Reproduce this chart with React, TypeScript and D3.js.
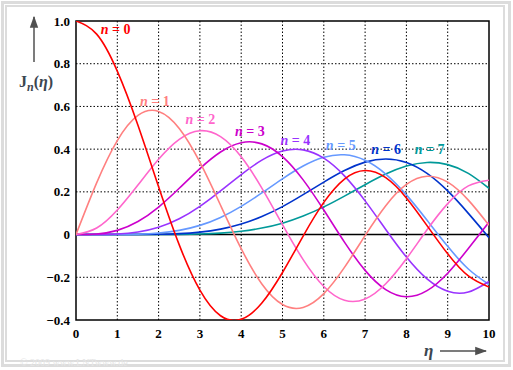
import React from 'react'
import * as d3 from 'd3'

// sample positions of eta
const etaValues = [0, 0.5, 1, 1.5, 2, 2.5, 3, 3.5, 4, 4.5, 5, 5.5, 6, 6.5, 7, 7.5, 8, 8.5, 9, 9.5, 10]

// J_n(eta) at the positions above
const j0 = [1.0, 0.9385, 0.7652, 0.5118, 0.2239, -0.0484, -0.2601, -0.3801, -0.3971, -0.3205, -0.1776, -0.0068, 0.1506, 0.2601, 0.3001, 0.2663, 0.1717, 0.0419, -0.0903, -0.1939, -0.2459]
const j1 = [0, 0.2423, 0.4401, 0.5579, 0.5767, 0.4971, 0.3391, 0.1374, -0.066, -0.2311, -0.3276, -0.3414, -0.2767, -0.1538, -0.0047, 0.1352, 0.2346, 0.2731, 0.2453, 0.1613, 0.0435]
const j2 = [0, 0.0306, 0.1149, 0.2321, 0.3528, 0.4461, 0.4861, 0.4586, 0.3641, 0.2178, 0.0466, -0.1173, -0.2429, -0.3074, -0.3014, -0.2302, -0.113, 0.0224, 0.1448, 0.2279, 0.2546]
const j3 = [0, 0.0026, 0.0196, 0.061, 0.1289, 0.2167, 0.3091, 0.3868, 0.4301, 0.4247, 0.3649, 0.2561, 0.1148, -0.0354, -0.1676, -0.258, -0.2911, -0.2626, -0.1809, -0.0653, 0.0584]
const j4 = [0, 0.0002, 0.0025, 0.0118, 0.034, 0.0738, 0.132, 0.2044, 0.2811, 0.3485, 0.3912, 0.3967, 0.3576, 0.2747, 0.1578, 0.0238, -0.1054, -0.2078, -0.2655, -0.2691, -0.2196]
const j5 = [0, 0, 0.0002, 0.0018, 0.007, 0.0195, 0.043, 0.0804, 0.1321, 0.1949, 0.2611, 0.3209, 0.3621, 0.3735, 0.3479, 0.2834, 0.1858, 0.067, -0.055, -0.1613, -0.2341]
const j6 = [0, 0, 0, 0.0002, 0.0012, 0.0042, 0.0114, 0.0254, 0.0491, 0.0846, 0.131, 0.1868, 0.2458, 0.2999, 0.3392, 0.3541, 0.3376, 0.2866, 0.2043, 0.0993, -0.0145]
const j7 = [0, 0, 0, 0, 0.0002, 0.0009, 0.0025, 0.0066, 0.0152, 0.0307, 0.0534, 0.0867, 0.1296, 0.1802, 0.2336, 0.2832, 0.3206, 0.3376, 0.3275, 0.2867, 0.2167]

const seriesValues = [j0, j1, j2, j3, j4, j5, j6, j7]
const seriesOrders = ['0', '1', '2', '3', '4', '5', '6', '7']
// where each "n = k" label sits (eta, value)
const labelAnchors: [number, number][] = [
  [0.6, 0.94], [1.55, 0.6], [2.65, 0.52], [3.85, 0.46], [4.95, 0.42], [6.05, 0.395], [7.15, 0.378], [8.2, 0.378],
]

const xTicks = [0, 1, 2, 3, 4, 5, 6, 7, 8, 9, 10]
const yTicks = [-0.4, -0.2, 0, 0.2, 0.4, 0.6, 0.8, 1.0]

const colors = ['#ff0000', '#ff8080', '#ff66cc', '#cc00cc', '#9933ff', '#6699ff', '#0033cc', '#009999']

const App = () => {
  const W = 513
  const H = 370
  const left = 76
  const right = 489
  const top = 21
  const bottom = 320

  const x = d3.scaleLinear().domain([0, 10]).range([left, right])
  const y = d3.scaleLinear().domain([-0.4, 1.0]).range([bottom, top])

  const line = d3
    .line<number>()
    .x((d, i) => x(etaValues[i]))
    .y((d) => y(d))
    .curve(d3.curveNatural)

  const serif = '"Liberation Serif", "Times New Roman", serif'

  return (
    <svg width={W} height={H} style={{ position: 'absolute', left: 0, top: 0 }} fontFamily={serif}>
      <defs>
        <clipPath id="plot">
          <rect x={left} y={top} width={right - left} height={bottom - top} />
        </clipPath>
        <marker id="arr" viewBox="0 0 10 10" refX="9" refY="5" markerWidth="8" markerHeight="8" orient="auto">
          <path d="M0,1.5 L10,5 L0,8.5 Z" fill="#505050" />
        </marker>
      </defs>

      {/* frame */}
      <rect x={0} y={0} width={W} height={H} fill="#fff" />
      <rect x={2.5} y={2.5} width={507} height={363} fill="none" stroke="#dcdcdc" strokeWidth={3} />
      <rect x={6} y={6} width={498} height={355} fill="none" stroke="#dcdcdc" strokeWidth={2} />

      {/* grid */}
      {xTicks.slice(1, -1).map((t) => (
        <line key={'gx' + t} x1={x(t)} x2={x(t)} y1={top} y2={bottom} stroke="#000" strokeWidth={1} strokeDasharray="1.5,2" />
      ))}
      {yTicks.filter((t) => t !== 0 && t !== -0.4 && t !== 1.0).map((t) => (
        <line key={'gy' + t} x1={left} x2={right} y1={y(t)} y2={y(t)} stroke="#000" strokeWidth={1} strokeDasharray="1.5,2" />
      ))}

      {/* border and zero line */}
      <rect x={left} y={top} width={right - left} height={bottom - top} fill="none" stroke="#000" strokeWidth={1.5} />
      <line x1={left} x2={right} y1={y(0)} y2={y(0)} stroke="#000" strokeWidth={1.5} />

      {/* curves */}
      <g clipPath="url(#plot)">
        {seriesValues
          .map((vals, n) => ({ vals, n }))
          .reverse()
          .map(({ vals, n }) => (
            <path key={n} d={line(vals) || ''} fill="none" stroke={colors[n]} strokeWidth={1.6} />
          ))}
      </g>

      {/* curve labels */}
      {labelAnchors.map(([ex, ev], n) => (
        <text key={'l' + n} x={x(ex)} y={y(ev)} fill={colors[n]} fontSize={14} fontWeight="bold">
          <tspan fontStyle="italic">n</tspan>
          <tspan> = {seriesOrders[n]}</tspan>
        </text>
      ))}

      {/* tick labels */}
      {xTicks.map((t) => (
        <text key={'tx' + t} x={x(t)} y={bottom + 18} textAnchor="middle" fontSize={13} fontWeight="bold">
          {t}
        </text>
      ))}
      {yTicks.map((t) => (
        <text key={'ty' + t} x={left - 6} y={y(t) + 4.5} textAnchor="end" fontSize={13} fontWeight="bold">
          {t === 0 ? '0' : d3.format('.1f')(t)}
        </text>
      ))}

      {/* y axis title */}
      <line x1={34} x2={34} y1={62} y2={17} stroke="#505050" strokeWidth={1.5} markerEnd="url(#arr)" />
      <text x={19} y={87} fontSize={16} fontWeight="bold" fill="#3c4650">
        J<tspan fontStyle="italic" fontSize={12} dy={4}>n</tspan>
        <tspan dy={-4}>(</tspan>
        <tspan fontStyle="italic">η</tspan>
        <tspan>)</tspan>
      </text>

      {/* x axis title */}
      <text x={424} y={356} fontSize={17} fontStyle="italic" fontWeight="bold" fill="#3c4650">η</text>
      <line x1={440} x2={486} y1={351} y2={351} stroke="#505050" strokeWidth={1.5} markerEnd="url(#arr)" />

      <text x={20} y={366} fontSize={10} fill="#e6e6e6">© 2009 www.LNTwww.de</text>
    </svg>
  )
}

export default App
